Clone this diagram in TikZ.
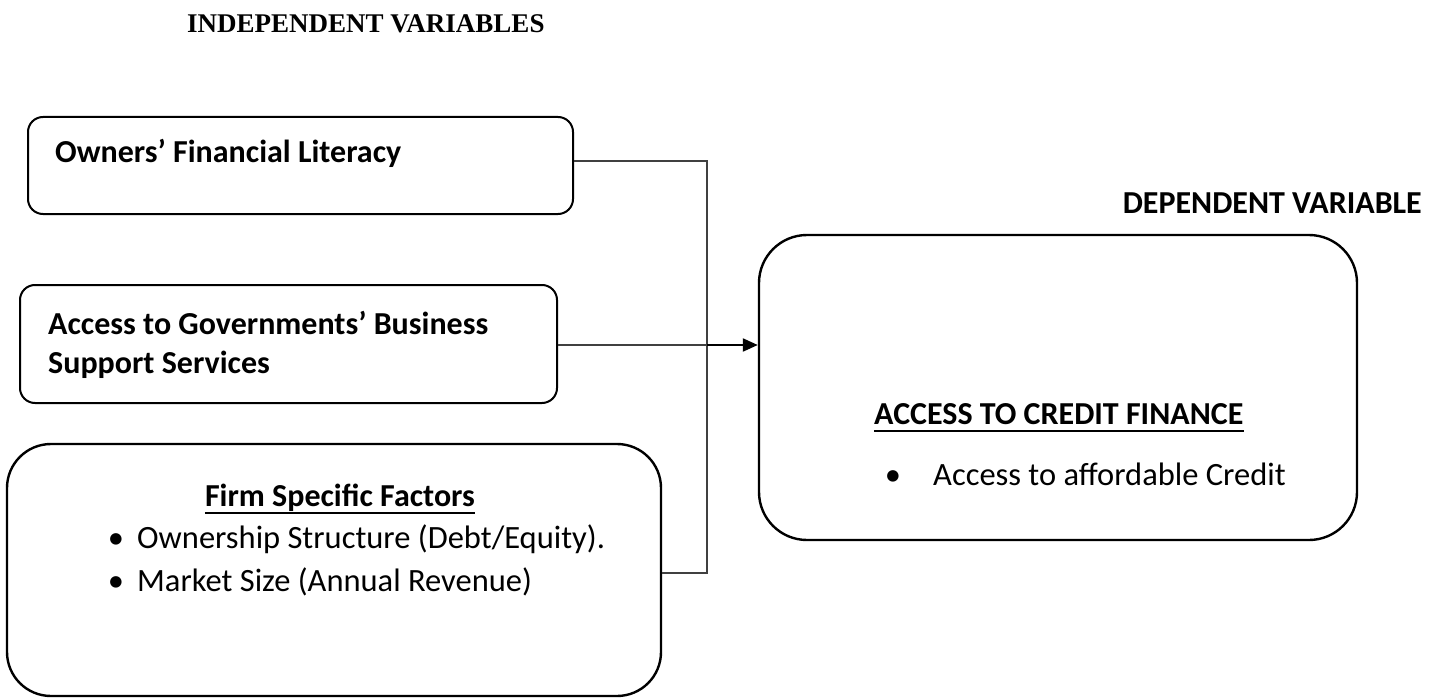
\documentclass[tikz,border=0pt]{standalone}
\usepackage{fontspec}
\setmainfont{Carlito}
\newfontfamily\headfont{Liberation Serif}
\usetikzlibrary{arrows.meta}

\begin{document}
\begin{tikzpicture}[x=1pt,y=-1pt,
  varbox/.style={draw=black, line width=2pt, rounded corners=15pt, inner sep=0pt},
  bigbox/.style={draw=black, line width=2.4pt, rounded corners=44pt, inner sep=0pt},
  txt/.style={anchor=base west, inner sep=0pt, font=\fontsize{32.5}{39}\selectfont},
  btxt/.style={txt, font=\fontsize{32}{39}\selectfont\bfseries},
  uline/.style={draw=black, line width=2pt},
  link/.style={draw=black!75, line width=1.3pt},
  arr/.style={draw=black, line width=2.2pt, -{Triangle[length=15pt,width=13pt]}}
]
% page frame
\useasboundingbox (0,0) rectangle (1440,698);

% headings
\node[anchor=base west, inner sep=0pt, font=\headfont\fontsize{27}{32}\selectfont\bfseries]
  (hIndep) at (187,33) {INDEPENDENT VARIABLES};
\node[anchor=base east, inner sep=0pt, font=\fontsize{32}{38}\selectfont\bfseries]
  (hDep) at (1422,213) {DEPENDENT VARIABLE};

% independent variable boxes
\node[varbox, minimum width=545pt, minimum height=97pt] (b1) at (300.5,165.5) {};
\node[varbox, minimum width=537pt, minimum height=118pt] (b2) at (288.5,344) {};
\node[bigbox, minimum width=654pt, minimum height=252pt] (b3) at (334,570) {};

% dependent variable box
\node[bigbox, minimum width=598pt, minimum height=305pt, rounded corners=48pt] (b4) at (1058,387.5) {};

% texts of the boxes
\node[btxt] (t1) at (55,163) {Owners’ Financial Literacy};
\node[btxt] (t2a) at (48,334) {Access to Governments’ Business};
\node[btxt] (t2b) at (48,373) {Support Services};

\node[btxt, anchor=base] (t3) at (340,506) {Firm Specific Factors};
\draw[uline] ([yshift=-7pt]t3.base west) -- ([yshift=-7pt]t3.base east);
\node[txt, anchor=base] (d31) at (116,548) {•};
\node[txt] (t31) at (137,548) {Ownership Structure (Debt/Equity).};
\node[txt, anchor=base] (d32) at (116,591) {•};
\node[txt] (t32) at (137,591) {Market Size (Annual Revenue)};

\node[btxt] (t4) at (874,424) {ACCESS TO CREDIT FINANCE};
\draw[uline] ([yshift=-7pt]t4.base west) -- ([yshift=-7pt]t4.base east);
\node[txt, anchor=base] (d41) at (893,485) {•};
\node[txt] (t41) at (933,485) {Access to affordable Credit};

% junction of the connectors
\coordinate (jt) at (707,161);
\coordinate (jb) at (707,573);
\coordinate (jm) at (707,345);

% connectors
\draw[link] (b1.east |- jt) -- (jt) -- (jb) -- (b3.east |- jb);
\draw[link] (b2.east |- jm) -- (jm);
\draw[arr] (jm) -- (jm -| b4.west);
\end{tikzpicture}
\end{document}
